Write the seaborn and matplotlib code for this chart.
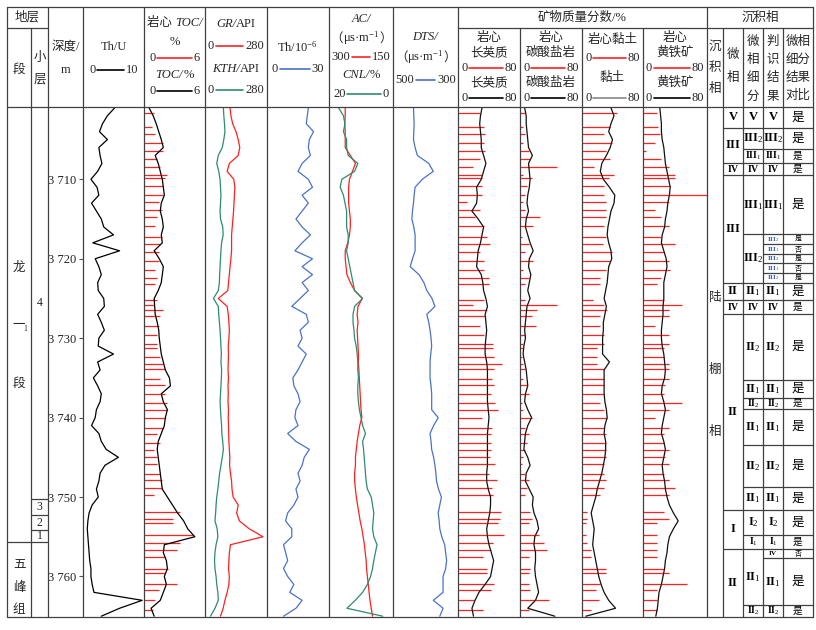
import matplotlib
matplotlib.use('Agg')
import matplotlib.pyplot as plt
import pandas as pd
import seaborn as sns
from matplotlib.offsetbox import TextArea, HPacker, AnnotationBbox

# ---------------- log curves (1 m sampling) ----------------
depth = list(range(3701, 3766))
th_u = [5.2, 4.0, 3.2, 2.7, 4.0, 2.6, 2.8, 3.1, 2.4, 1.3,
        2.3, 2.6, 1.4, 2.2, 3.0, 3.4, 5.0, 1.6, 6.0, 2.0,
        2.6, 3.0, 2.4, 2.5, 3.4, 3.5, 2.4, 3.0, 3.5, 2.6,
        2.5, 5.0, 2.4, 2.8, 1.7, 2.4, 3.0, 2.8, 2.2, 2.0,
        1.4, 2.6, 3.0, 3.8, 5.8, 3.6, 2.8, 2.6, 2.2, 2.5,
        1.5, 1.0, 0.8, 0.7, 0.8, 0.9, 1.0, 1.1, 1.3, 1.3,
        1.5, 1.8, 9.7, 6.0, 3.0]
toc = [0.5, 0.9, 1.2, 1.45, 1.7, 1.9, 1.1, 1.4, 1.6, 1.8,
       1.9, 2.0, 1.7, 1.6, 1.8, 1.9, 1.7, 1.8, 1.0, 1.5,
       1.9, 1.8, 1.7, 1.4, 1.0, 1.05, 1.1, 1.3, 1.45, 1.5,
       1.6, 1.7, 1.9, 2.1, 2.5, 2.6, 1.7, 1.9, 2.3, 2.1,
       2.0, 1.7, 1.4, 1.3, 1.4, 1.5, 1.6, 1.7, 1.8, 2.3,
       2.8, 3.3, 3.9, 4.3, 5.0, 2.0, 1.9, 2.2, 2.3, 2.0,
       2.2, 1.9, 1.6, 0.7, 1.0]
gr = [113, 117, 125, 140, 150, 157, 150, 110, 100, 130,
      135, 133, 131, 129, 126, 123, 120, 120, 120, 117,
      113, 110, 106, 103, 60, 100, 105, 108, 110, 108,
      105, 106, 105, 104, 106, 104, 105, 104, 106, 105,
      106, 107, 108, 110, 112, 111, 115, 120, 122, 127,
      150, 143, 155, 200, 262, 115, 110, 108, 106, 110,
      108, 100, 90, 82, 70]
kth = [83, 85, 88, 90, 85, 78, 60, 53, 62, 68,
       70, 72, 70, 68, 70, 80, 82, 75, 72, 70,
       68, 66, 65, 60, 38, 60, 62, 65, 68, 70,
       72, 74, 72, 75, 74, 72, 70, 68, 70, 72,
       75, 76, 80, 83, 78, 72, 66, 62, 58, 53,
       50, 48, 45, 55, 58, 50, 45, 43, 45, 50,
       53, 58, 60, 45, 25]
th = [20, 19.5, 19, 22.5, 20.5, 20, 21, 17, 15, 20,
      22, 17, 20, 17, 14, 17, 21, 17, 13.5, 22,
      17, 22, 17, 20, 16, 12, 19, 20, 16, 17,
      15, 19, 17, 15, 12.5, 13, 15, 16, 14, 13.5,
      15, 10, 14, 20.5, 18, 17, 15, 16, 14, 15,
      13, 10, 9, 12, 12, 8, 9, 10, 8, 10,
      13, 11, 17, 14, 8]
ac = [262, 262, 263, 262, 262, 262, 250, 238, 245, 252,
      254, 254, 254, 252, 250, 250, 252, 256, 262, 262,
      260, 258, 250, 240, 222, 232, 234, 232, 234, 233,
      232, 231, 231, 230, 229, 228, 227, 226, 225, 223,
      228, 231, 234, 236, 238, 238, 240, 240, 238, 236,
      233, 230, 227, 223, 220, 217, 215, 213, 212, 210,
      208, 206, 204, 201, 198]
cnl = [17, 15.5, 15, 15.5, 14.5, 14.5, 14, 11, 12, 16,
       16.5, 15.5, 15, 14.5, 14.5, 14.5, 14, 14, 14.5, 14,
       13.5, 13, 12.5, 12, 9.5, 12, 12.5, 12.5, 12.2, 12,
       11.5, 11.2, 11, 11, 10.8, 11, 11, 10.8, 10.5, 10,
       9.5, 8.6, 9.5, 9.2, 9, 8.8, 8.6, 8.4, 8, 6.8,
       6.4, 6, 6.2, 6.4, 6, 5, 5.5, 6, 6.4, 7,
       8, 9.5, 11.8, 14.4, 3.2]
dts = [437, 436, 435, 436, 437, 432, 425, 390, 376, 410,
       432, 435, 437, 440, 442, 436, 432, 432, 432, 440,
       447, 420, 405, 396, 380, 371, 396, 390, 386, 383,
       381, 384, 386, 386, 386, 383, 381, 381, 381, 361,
       375, 386, 383, 381, 375, 371, 368, 366, 360, 351,
       356, 361, 358, 356, 350, 341, 338, 335, 338, 346,
       346, 346, 376, 346, 356]
felsic = [31, 29, 28, 29, 30, 30, 33, 36, 33, 30,
          24, 25, 24, 18, 26, 33, 31, 29, 26, 25,
          24, 30, 32, 33, 36, 38, 35, 36, 37, 36,
          35, 35, 37, 38, 38, 38, 38, 38, 39, 40,
          39, 38, 38, 38, 38, 38, 37, 37, 39, 42,
          42, 41, 39, 37, 38, 40, 43, 46, 44, 42,
          35, 27, 22, 18, 20]
carbonate = [6, 8, 8, 9, 10, 11, 16, 11, 12, 13,
             12, 10, 9, 11, 8, 7, 10, 13, 17, 12,
             11, 14, 12, 10, 13, 9, 8, 7, 6, 7,
             5, 4, 6, 8, 9, 10, 7, 6, 10, 15,
             10, 7, 6, 5, 10, 13, 8, 7, 12, 17,
             16, 18, 22, 24, 19, 18, 20, 20, 19, 20,
             22, 24, 20, 10, 45]
clay = [38, 42, 38, 35, 40, 37, 32, 26, 24, 28,
        36, 43, 42, 38, 36, 34, 33, 35, 38, 39,
        35, 34, 33, 31, 29, 32, 30, 28, 28, 27,
        27, 27, 36, 29, 29, 29, 29, 30, 32, 33,
        30, 29, 31, 31, 30, 28, 26, 23, 20, 18,
        15, 12, 14, 16, 15, 14, 16, 18, 20, 22,
        25, 29, 35, 44, 5]
pyrite = [21, 22, 23, 23, 24, 26, 27, 28, 30, 32,
          34, 33, 31, 30, 28, 27, 24, 23, 26, 29,
          30, 28, 26, 26, 26, 25, 25, 24, 23, 23,
          24, 26, 27, 28, 27, 24, 23, 26, 28, 26,
          24, 23, 26, 28, 26, 24, 25, 27, 28, 30,
          33, 38, 44, 38, 33, 31, 30, 28, 27, 25,
          23, 20, 19, 18, 16]

# ---------------- core samples ----------------
core_depth = [3701.7, 3703.4, 3704.3, 3705.4, 3706.4, 3707.4, 3708.5, 3709.4, 3709.9, 3710.9,
              3712.0, 3712.9, 3713.9, 3714.8, 3715.9, 3717.3, 3718.1, 3719.1, 3720.3, 3721.4,
              3722.4, 3723.2, 3725.2, 3725.8, 3726.5, 3727.2, 3728.5, 3729.6, 3730.7, 3731.3,
              3732.4, 3733.3, 3733.9, 3735.2, 3735.9, 3737.0, 3738.1, 3739.1, 3740.1, 3741.3,
              3742.1, 3743.2, 3744.1, 3745.0, 3745.9, 3747.1, 3747.9, 3748.9, 3749.7, 3751.9,
              3752.8, 3753.3, 3754.8, 3755.8, 3756.7, 3757.6, 3759.1, 3759.5, 3761.0, 3761.7,
              3762.9, 3764.2]
core_toc = [1.0, 0.8, 1.1, 1.9, 1.9, 1.3, 1.6, 2.3, 2.1, 1.9,
            1.9, 1.5, 1.8, 1.3, 1.1, 1.8, 1.6, 1.5, 1.5, 1.1,
            1.3, 1.1, 1.3, 1.0, 1.9, 1.6, 1.5, 1.3, 1.3, 1.3,
            1.6, 1.9, 2.1, 1.6, 2.1, 2.1, 2.3, 2.3, 2.1, 1.9,
            1.3, 1.6, 1.0, 1.3, 1.3, 1.6, 1.8, 1.8, 1.0, 3.5,
            2.9, 2.9, 4.8, 3.5, 3.2, 2.1, 2.4, 2.1, 3.2, 1.5,
            1.1, 0.9]
core_felsic = [28, 33, 35, 34, 35, 29, 19, 31, 31, 31,
               31, 12, 29, 22, 33, 37, 41, 29, 34, 33,
               40, 40, 33, 19, 37, 35, 29, 34, 45, 45,
               47, 57, 46, 44, 47, 42, 48, 51, 31, 44,
               42, 42, 42, 41, 48, 40, 50, 44, 45, 56,
               54, 51, 59, 45, 43, 32, 37, 37, 47, 42,
               20, 32]
core_carbonate = [6.6, 4.4, 6.6, 4.4, 11, 13, 48, 4.4, 15, 9,
                  6.6, 4.4, 6.6, 26, 17, 2, 11, 6.6, 17, 4.4,
                  11, 6.6, 6.6, 48, 22, 15, 20, 6.6, 4.4, 4.4,
                  2, 4.4, 6.6, 4.4, 9, 11, 2, 4.4, 15, 6.6,
                  11, 9, 6.6, 4.4, 2, 6.6, 11, 9, 6.6, 13,
                  15, 11, 24, 31, 35, 11, 13, 11, 11, 13,
                  37, 11]
core_clay = [46, 37, 29, 39, 31, 37, 16, 42, 35, 29,
             29, 31, 31, 31, 29, 31, 27, 39, 37, 31,
             24, 24, 14, 29, 33, 24, 24, 29, 29, 20,
             20, 20, 29, 29, 29, 29, 24, 29, 33, 29,
             31, 31, 31, 31, 29, 29, 31, 29, 24, 7,
             7, 5, 5, 7, 12, 12, 31, 31, 24, 18,
             22, 12]
core_pyrite = [17, 19, 21, 15, 4, 23, 32, 40, 40, 34,
               80, 32, 15, 23, 32, 23, 40, 26, 32, 34,
               23, 17, 26, 49, 32, 32, 15, 32, 32, 26,
               26, 32, 32, 32, 28, 26, 49, 32, 15, 32,
               26, 26, 32, 28, 32, 26, 32, 40, 32, 26,
               32, 17, 17, 17, 17, 17, 26, 32, 55, 17,
               17, 17]

# ---------------- stratigraphy & facies ----------------
seg_bounds = [3700.9, 3755.7, 3765.1]
layer_bounds = [3700.9, 3750.3, 3752.3, 3754.2, 3755.7]
layer_names = ['4', '3', '2', '1']
facies_bounds = [3700.9, 3703.5, 3707.9, 3709.5, 3723.0, 3725.2, 3726.9, 3751.6, 3756.5, 3765.1]
facies_labels = ['V', 'III', 'IV', 'III', 'II', 'IV', 'II', 'I', 'II']
sub_bounds = [3700.9, 3703.5, 3706.2, 3707.9, 3709.5, 3716.9, 3723.0, 3725.2, 3726.9, 3735.3,
              3737.5, 3738.9, 3743.5, 3748.7, 3751.6, 3754.8, 3756.5, 3763.6, 3765.1]
sub_labels = ['V', 'III2', 'III1', 'IV', 'III1', 'III2', 'II1', 'IV', 'II2', 'II1',
              'II2', 'II1', 'II2', 'II1', 'I2', 'I1', 'II1', 'II2']
judge_bounds = [3700.9, 3703.5, 3706.2, 3707.9, 3709.5, 3716.9, 3718.2, 3719.4, 3720.6, 3721.8,
                3723.0, 3725.2, 3726.9, 3735.3, 3737.5, 3738.9, 3743.5, 3748.7, 3751.6, 3754.8,
                3756.5, 3757.7, 3763.6, 3765.1]
judge_labels = ['V', 'III2', 'III1', 'IV', 'III1', 'III2', 'III1', 'III2', 'III1', 'III2',
                'II1', 'IV', 'II2', 'II1', 'II2', 'II1', 'II2', 'II1', 'I2', 'I1',
                'IV', 'II1', 'II2']
match = ['是', '是', '是', '是', '是', '是', '否', '是', '否', '是',
         '是', '是', '是', '是', '是', '是', '是', '是', '是', '是',
         '否', '是', '是']

logs = pd.DataFrame({'depth': depth, 'th_u': th_u, 'toc': toc, 'gr': gr, 'kth': kth,
                     'th': th, 'ac': ac, 'cnl': cnl, 'dts': dts, 'felsic': felsic,
                     'carbonate': carbonate, 'clay': clay, 'pyrite': pyrite})
core = pd.DataFrame({'depth': core_depth, 'toc': core_toc, 'felsic': core_felsic,
                     'carbonate': core_carbonate, 'clay': core_clay, 'pyrite': core_pyrite})

sns.set_style('white')
plt.rcParams['font.family'] = ['Liberation Serif', 'Noto Sans CJK SC', 'DejaVu Sans']
plt.rcParams['mathtext.fontset'] = 'custom'
plt.rcParams['mathtext.rm'] = 'Liberation Serif'
plt.rcParams['mathtext.it'] = 'Liberation Serif:italic'
plt.rcParams['mathtext.bf'] = 'Liberation Serif:bold'

RED, GREEN, BLUE, LINE = '#ff2020', '#2e8b6e', '#4a72c8', '#404040'
W, H = 816, 630
TOP, BOT = 107, 617
D0, D1 = 3700.9, 3765.1

fig = plt.figure(figsize=(W / 100, H / 100), dpi=100)
ov = fig.add_axes([0, 0, 1, 1], zorder=10)
ov.set_xlim(0, W)
ov.set_ylim(H, 0)
ov.axis('off')

tracks = []


def track(x0, x1, xlim):
    ax = fig.add_axes([x0 / W, (H - BOT) / H, (x1 - x0) / W, (BOT - TOP) / H])
    ax.patch.set_alpha(0)
    tracks.append((ax, xlim))
    return ax


def curve(ax, col, color, lw=0.9):
    sns.lineplot(data=logs, x=col, y='depth', orient='y', estimator=None,
                 color=color, lw=lw, ax=ax)


def bars(ax, col):
    ax.hlines(core['depth'], 0, core[col], colors=RED, lw=0.9)


ax_thu = track(83, 144, (0, 10))
curve(ax_thu, 'th_u', 'k')
ax_toc = track(144, 205, (0, 6))
bars(ax_toc, 'toc')
curve(ax_toc, 'toc', 'k')
ax_gr = track(205, 267, (0, 280))
curve(ax_gr, 'kth', GREEN)
curve(ax_gr, 'gr', RED)
ax_th = track(267, 329, (0, 30))
curve(ax_th, 'th', BLUE)
ax_ac = track(329, 393, (300, 150))
curve(ax_ac, 'ac', RED)
ax_cnl = track(329, 393, (20, 0))
curve(ax_cnl, 'cnl', GREEN)
ax_dts = track(393, 458, (500, 300))
curve(ax_dts, 'dts', BLUE)
for (x0, x1), col in zip([(458, 520), (520, 582), (582, 643), (643, 707)],
                         ['felsic', 'carbonate', 'clay', 'pyrite']):
    ax = track(x0, x1, (0, 80))
    bars(ax, col)
    curve(ax, col, '#111111')

ax_strat = track(7, 48, (7, 48))
ax_fac = track(707, 813, (707, 813))

for ax, xlim in tracks:
    ax.set_xlim(*xlim)
    ax.set_ylim(D1, D0)
    ax.set_xlabel('')
    ax.set_ylabel('')
    ax.set_xticks([])
    ax.set_yticks([])
    for s in ax.spines.values():
        s.set_visible(False)

# depth axis on Th/U track
ticks = list(range(3710, 3761, 10))
ax_thu.set_yticks(ticks)
ax_thu.set_yticklabels([f'3 {t - 3000}' for t in ticks])
ax_thu.tick_params(axis='y', left=True, direction='out', length=3, width=0.8,
                   color='#555555', pad=2, labelsize=9, labelcolor='#222222')

# stratigraphy columns
ax_strat.hlines(seg_bounds[1:-1], 7, 48, color=LINE, lw=0.9)
ax_strat.hlines(layer_bounds[1:-1], 31, 48, color=LINE, lw=0.9)
mid = (seg_bounds[0] + seg_bounds[1]) / 2
for ch, off in zip(['龙', '一', '段'], [-7.2, 0, 7.5]):
    ax_strat.text(19, mid + off, ch, ha='center', va='center', fontsize=9)
ax_strat.text(25.5, mid + 0.5, '1', ha='center', va='center', fontsize=5.5)
mid = (seg_bounds[1] + seg_bounds[2]) / 2 + 1.0
for ch, off in zip(['五', '峰', '组'], [-2.8, 0, 2.8]):
    ax_strat.text(19, mid + off, ch, ha='center', va='center', fontsize=9)
for a, b, name in zip(layer_bounds[:-1], layer_bounds[1:], layer_names):
    ax_strat.text(39.5, (a + b) / 2, name, ha='center', va='center', fontsize=8.5)


def roman(lab):
    if lab[-1].isdigit():
        return r'$\mathbf{%s}_{%s}$' % (lab[:-1], lab[-1])
    return r'$\mathbf{%s}$' % lab


def cells(bounds, labels, x0, x1, is_text=False):
    ax_fac.hlines(bounds[1:-1], x0, x1, color=LINE, lw=0.9)
    for a, b, lab in zip(bounds[:-1], bounds[1:], labels):
        hpx = (b - a) * 7.95
        size = 9 if hpx >= 15 else (7 if hpx >= 11 else 5)
        color = 'k'
        if not is_text and hpx < 11 and lab.startswith('III'):
            color = '#2a55b5'
        ax_fac.text((x0 + x1) / 2, (a + b) / 2, lab if is_text else roman(lab),
                    ha='center', va='center', fontsize=size, color=color)


cells(facies_bounds, facies_labels, 723, 743)
cells(sub_bounds, sub_labels, 743, 763)
cells(judge_bounds, judge_labels, 763, 783)
cells(judge_bounds, match, 783, 813, is_text=True)
for ch, d in zip(['陆', '棚', '相'], [3725.0, 3734.0, 3741.8]):
    ax_fac.text(715, d, ch, ha='center', va='center', fontsize=9)

# ---------------- table frame ----------------
edges = [7, 31, 48, 83, 144, 205, 267, 329, 393, 458, 520, 582, 643, 707, 723, 743, 763, 783, 813]
inner = {31, 520, 582, 643, 723, 743, 763, 783}
for x in edges:
    ov.plot([x, x], [28 if x in inner else 7, BOT], color=LINE, lw=0.9)
for y in [7, TOP, BOT]:
    ov.plot([7, 813], [y, y], color=LINE, lw=0.9)
ov.plot([7, 48], [28, 28], color=LINE, lw=0.9)
ov.plot([458, 813], [28, 28], color=LINE, lw=0.9)


def txt(x, y, s, size=9, **kw):
    ov.text(x, y, s, ha='center', va='center', fontsize=size, **kw)


def rich(x, y, parts, size=9):
    kids = [TextArea(t, textprops=dict(fontsize=size, fontstyle='italic' if it else 'normal'))
            for t, it in parts]
    box = HPacker(children=kids, align='baseline', pad=0, sep=0)
    ov.add_artist(AnnotationBbox(box, (x, y), xycoords='data', frameon=False,
                                 box_alignment=(0.5, 0.5), pad=0))


def scale_bar(x0, x1, y, lo, hi, color, pad=3):
    ov.text(x0 + pad, y, lo, ha='left', va='center', fontsize=9)
    ov.text(x1 - pad, y, hi, ha='right', va='center', fontsize=9)
    a = x0 + pad + 6.2 * len(lo) + 2
    b = x1 - pad - 6.2 * len(hi) - 2
    ov.plot([a, b], [y, y], color=color, lw=1.2)


txt(27.5, 17.5, '地层')
txt(19, 70, '段')
txt(39.5, 58, '小')
txt(39.5, 80, '层')
txt(65.5, 47, '深度/')
txt(65.5, 70, 'm')

txt(113.5, 47, 'Th/U')
scale_bar(83, 144, 70, '0', '10', 'k', pad=6)

rich(174.5, 23, [('岩心 ', False), ('TOC/', True)])
txt(174.5, 42, '%')
scale_bar(144, 205, 58, '0', '6', RED, pad=5)
rich(174.5, 75, [('TOC/', True), ('%', False)])
scale_bar(144, 205, 91, '0', '6', 'k', pad=5)

rich(236, 24, [('GR/', True), ('API', False)])
scale_bar(205, 267, 46, '0', '280', RED, pad=3)
rich(236, 69, [('KTH/', True), ('API', False)])
scale_bar(205, 267, 90, '0', '280', GREEN, pad=3)

txt(298, 47, 'Th/10$^{-6}$')
scale_bar(267, 329, 69, '0', '30', BLUE, pad=5)

rich(361, 19, [('AC/', True)])
rich(361, 38, [('（', False), ('μs·m$^{-1}$', False), ('）', False)])
scale_bar(329, 393, 57, '300', '150', RED, pad=2)
rich(361, 75, [('CNL/', True), ('%', False)])
scale_bar(329, 393, 94, '20', '0', GREEN, pad=4)

rich(425.5, 37, [('DTS/', True)])
rich(425.5, 57, [('（', False), ('μs·m$^{-1}$', False), ('）', False)])
scale_bar(393, 458, 80, '500', '300', BLUE, pad=2)

txt(582.5, 17.5, '矿物质量分数/%')
for (x0, x1), name in zip([(458, 520), (520, 582), (643, 707)], ['长英质', '碳酸盐岩', '黄铁矿']):
    cx = (x0 + x1) / 2
    txt(cx, 38, '岩心')
    txt(cx, 53, name)
    scale_bar(x0, x1, 68, '0', '80', RED, pad=3)
    txt(cx, 83, name)
    scale_bar(x0, x1, 98, '0', '80', 'k', pad=3)
txt(612.5, 40, '岩心黏土')
scale_bar(582, 643, 58, '0', '80', RED, pad=3)
txt(612.5, 78, '黏土')
scale_bar(582, 643, 98, '0', '80', '#888888', pad=3)

txt(760, 17.5, '沉积相')
for ch, y in zip('沉积相', [47, 68, 89]):
    txt(715, y, ch)
for ch, y in zip('微相', [55, 78]):
    txt(733, y, ch)
for ch, y in zip('微相细分', [42, 60, 78, 97]):
    txt(753, y, ch)
for ch, y in zip('判识结果', [42, 60, 78, 97]):
    txt(773, y, ch)
for s, y in zip(['微相', '细分', '结果', '对比'], [42, 60, 78, 96]):
    txt(798, y, s)

fig.savefig('out.png', dpi=100)
